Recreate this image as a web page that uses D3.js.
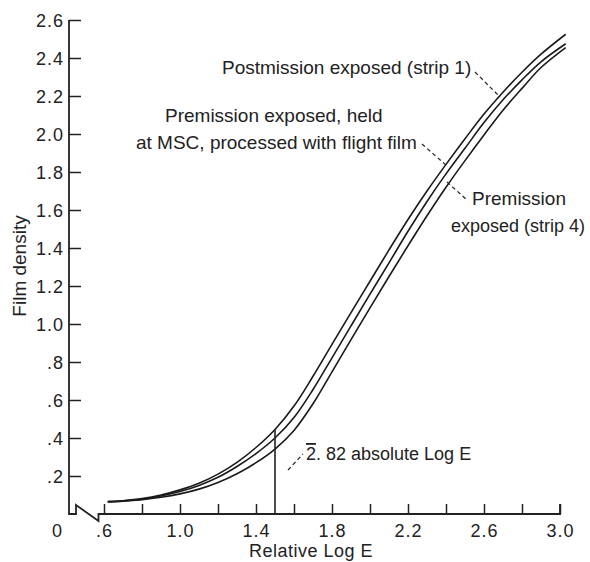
<!DOCTYPE html>
<html>
<head>
<meta charset="utf-8">
<script src="https://cdn.jsdelivr.net/npm/d3@7"></script>
<style>
  html, body { margin: 0; padding: 0; background: #fff; }
  svg text { font-family: "Liberation Sans", Arial, sans-serif; fill: #222; }
</style>
</head>
<body>
<svg id="chart" width="590" height="562"></svg>
<script>
// ---- data ----
const logE = [0.62, 0.70, 0.80, 0.90, 1.00, 1.10, 1.20, 1.30, 1.40, 1.50, 1.60, 1.70,
              1.80, 1.90, 2.00, 2.10, 2.20, 2.30, 2.40, 2.50, 2.60, 2.70, 2.80, 2.90, 3.03];
const postStrip1 = [0.065, 0.070, 0.081, 0.100, 0.127, 0.162, 0.210, 0.272, 0.350, 0.445, 0.568, 0.725,
                    0.893, 1.060, 1.225, 1.390, 1.550, 1.700, 1.840, 1.975, 2.105, 2.220, 2.325, 2.420, 2.525];
const preHeldMSC = [0.065, 0.069, 0.078, 0.095, 0.118, 0.150, 0.193, 0.250, 0.318, 0.400, 0.508, 0.655,
                    0.822, 0.990, 1.157, 1.322, 1.488, 1.645, 1.790, 1.925, 2.060, 2.180, 2.285, 2.380, 2.475];
const preStrip4  = [0.064, 0.067, 0.075, 0.088, 0.106, 0.131, 0.166, 0.212, 0.270, 0.342, 0.440, 0.580,
                    0.748, 0.918, 1.085, 1.250, 1.412, 1.570, 1.720, 1.860, 1.995, 2.125, 2.240, 2.350, 2.455];
const xTicks = [0.6, 0.8, 1.0, 1.2, 1.4, 1.6, 1.8, 2.0, 2.2, 2.4, 2.6, 2.8, 3.0];
const xTickLabels = {0.6: ".6", 1.0: "1.0", 1.4: "1.4", 1.8: "1.8", 2.2: "2.2", 2.6: "2.6", 3.0: "3.0"};
const yTicks = [0.2, 0.4, 0.6, 0.8, 1.0, 1.2, 1.4, 1.6, 1.8, 2.0, 2.2, 2.4, 2.6];
const yTickLabels = [".2", ".4", ".6", ".8", "1.0", "1.2", "1.4", "1.6", "1.8", "2.0", "2.2", "2.4", "2.6"];
const refLogE = 1.5, refDensity = 0.445;

// ---- layout ----
const svg = d3.select("#chart");
const x = d3.scaleLinear().domain([0.6, 3.0]).range([104, 560]);
const y = d3.scaleLinear().domain([0, 2.6]).range([514, 20]);
const ink = "#222";
const originX = 69;

// x axis ticks (inward) with labels
const xAxis = d3.axisBottom(x).tickValues(xTicks).tickSizeInner(-10).tickSizeOuter(0)
  .tickPadding(10).tickFormat(d => xTickLabels[d] || "");
const gx = svg.append("g").attr("transform", `translate(0,${y(0)})`).call(xAxis);
gx.select(".domain").remove();
gx.selectAll(".tick line").attr("stroke", ink).attr("stroke-width", 1.5);
gx.selectAll(".tick text").attr("font-size", 18).attr("letter-spacing", 1)
  .attr("font-family", null).attr("fill", ink);

// y axis ticks (inward) with labels
const yAxis = d3.axisLeft(y).tickValues(yTicks).tickSizeInner(-12).tickSizeOuter(0)
  .tickPadding(5).tickFormat((d, i) => yTickLabels[i]);
const gy = svg.append("g").attr("transform", `translate(${originX},0)`).call(yAxis);
gy.select(".domain").remove();
gy.selectAll(".tick line").attr("stroke", ink).attr("stroke-width", 1.5);
gy.selectAll(".tick text").attr("font-size", 18).attr("letter-spacing", 1)
  .attr("font-family", null).attr("fill", ink).attr("dy", "0.36em");

// axis lines with the break near the origin
svg.append("path")
  .attr("d", `M${originX},${y(2.6)} V${y(0)} H76 V505 L98.5,521 V${y(0)} H${x(3.0)} v-10`)
  .attr("fill", "none").attr("stroke", ink).attr("stroke-width", 1.8).attr("stroke-linejoin", "miter");

svg.append("text").attr("x", 57).attr("y", 537).attr("text-anchor", "middle")
  .attr("font-size", 18).text("0");

// axis titles
svg.append("text").attr("x", 311).attr("y", 557).attr("text-anchor", "middle")
  .attr("font-size", 18).attr("letter-spacing", 0.5).text("Relative Log E");
svg.append("text").attr("transform", "translate(26,266) rotate(-90)").attr("text-anchor", "middle")
  .attr("font-size", 19).text("Film density");

// curves
const line = d3.line().x(d => x(d[0])).y(d => y(d[1])).curve(d3.curveCatmullRom.alpha(0.5));
[postStrip1, preHeldMSC, preStrip4].forEach(series => {
  svg.append("path").datum(logE.map((v, i) => [v, series[i]]))
    .attr("d", line).attr("fill", "none").attr("stroke", "#1a1a1a").attr("stroke-width", 1.6);
});

// reference vertical line at 1.5
svg.append("line").attr("x1", x(refLogE)).attr("x2", x(refLogE))
  .attr("y1", y(0)).attr("y2", y(refDensity)).attr("stroke", ink).attr("stroke-width", 1.6);

// annotations
const dash = (x1, y1, x2, y2) => svg.append("line").attr("x1", x1).attr("y1", y1)
  .attr("x2", x2).attr("y2", y2).attr("stroke", ink).attr("stroke-width", 1.2)
  .attr("stroke-dasharray", "4,3");

svg.append("text").attr("x", 222).attr("y", 74).attr("font-size", 19).text("Postmission exposed (strip 1)");
dash(475, 72, 500, 97);

svg.append("text").attr("x", 165).attr("y", 122).attr("font-size", 19).text("Premission exposed, held");
svg.append("text").attr("x", 136).attr("y", 149).attr("font-size", 19).text("at MSC, processed with flight film");
dash(422, 144, 447, 166);

svg.append("text").attr("x", 472).attr("y", 205).attr("font-size", 19).text("Premission");
svg.append("text").attr("x", 451).attr("y", 232).attr("font-size", 18).text("exposed (strip 4)");
dash(447, 182, 467, 200);

const ann = svg.append("text").attr("x", 306).attr("y", 460).attr("font-size", 18);
ann.append("tspan").style("text-decoration", "overline").text("2");
ann.append("tspan").text(". 82 absolute Log E");
dash(288, 470, 303, 454);
</script>
</body>
</html>
